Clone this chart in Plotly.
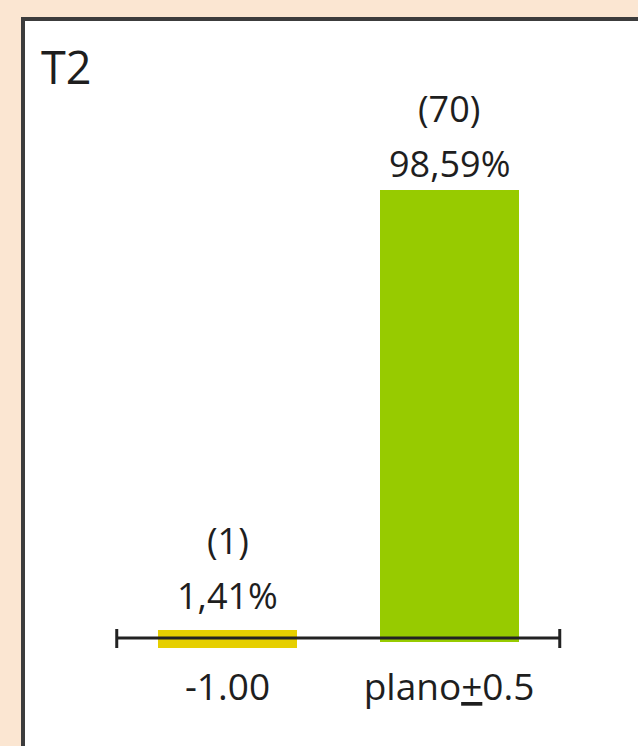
import plotly.graph_objects as go

# ---- data ----
categories = ["-1.00", "plano<u>+</u>0.5"]
counts = [1, 70]
percents = [1.41, 98.59]
bar_colors = ["#E6CF00", "#97CB00"]
panel_title = "T2"

# ---- page geometry (pixels) ----
W, H = 638, 746
cat0_px, cat_step_px = 227.5, 221.5      # centre of first bar, spacing between bars
base_px, top_px = 642, 190               # pixel rows of 0 and of the largest value
plot_bottom_px = 662
bar_px = 139
outline_px = [12, 0]                     # thin bars get a same-colour outline
pct_shift = [40, 27]                     # label offsets above each bar's value
cnt_shift = [95, 82]

ppu = (base_px - top_px) / max(percents)  # pixels per percent
x_range = [(0 - cat0_px) / cat_step_px, (W - cat0_px) / cat_step_px]
y_range = [-(plot_bottom_px - base_px) / ppu, base_px / ppu]

FONT = "Open Sans"
TXT = "#1e1e1e"

fig = go.Figure()
fig.add_trace(go.Bar(
    x=categories,
    y=percents,
    width=[(bar_px - o) / cat_step_px for o in outline_px],
    marker=dict(color=bar_colors,
                line=dict(color=bar_colors, width=outline_px)),
    hoverinfo="skip",
))

# value labels: "(count)" above "percent%"
annotations = []
for i, (n, p) in enumerate(zip(counts, percents)):
    annotations.append(dict(x=i, y=p, xref="x", yref="y",
                            text=f"{p:.2f}%".replace(".", ","),
                            showarrow=False, yanchor="middle",
                            yshift=pct_shift[i],
                            font=dict(family=FONT, size=36, color=TXT)))
    annotations.append(dict(x=i, y=p, xref="x", yref="y",
                            text=f"({n})",
                            showarrow=False, yanchor="middle",
                            yshift=cnt_shift[i],
                            font=dict(family=FONT, size=36, color=TXT)))
annotations.append(dict(x=39 / W, y=1 - 66 / H, xref="paper", yref="paper",
                        text=panel_title, showarrow=False,
                        xanchor="left", yanchor="middle",
                        font=dict(family=FONT, size=45, color=TXT)))

axis_y = (base_px - 638) / ppu
tick_hi = (base_px - 629) / ppu
tick_lo = (base_px - 648) / ppu
shapes = [
    # white panel with dark frame
    dict(type="rect", xref="paper", yref="paper",
         x0=23 / W, x1=1.2, y0=-0.2, y1=1 - 19 / H,
         fillcolor="white", line=dict(color="#3c3c3c", width=4), layer="below"),
    # baseline and its end ticks
    dict(type="line", xref="x", yref="y", x0=-0.5, x1=1.5, y0=axis_y, y1=axis_y,
         line=dict(color="#222222", width=3), layer="above"),
    dict(type="line", xref="x", yref="y", x0=-0.5, x1=-0.5, y0=tick_lo, y1=tick_hi,
         line=dict(color="#222222", width=3), layer="above"),
    dict(type="line", xref="x", yref="y", x0=1.5, x1=1.5, y0=tick_lo, y1=tick_hi,
         line=dict(color="#222222", width=3), layer="above"),
]

fig.update_layout(
    width=W, height=H,
    margin=dict(l=0, r=0, t=0, b=0),
    paper_bgcolor="#FBE6D2",
    plot_bgcolor="rgba(0,0,0,0)",
    showlegend=False,
    bargap=0,
    xaxis=dict(domain=[0, 1], range=x_range, showgrid=False, zeroline=False,
               showline=False, ticks="", fixedrange=True,
               tickfont=dict(family=FONT, size=37, color=TXT)),
    yaxis=dict(domain=[(H - plot_bottom_px) / H, 1], range=y_range,
               visible=False, fixedrange=True),
    shapes=shapes,
    annotations=annotations,
)

fig.write_html("out.html")
